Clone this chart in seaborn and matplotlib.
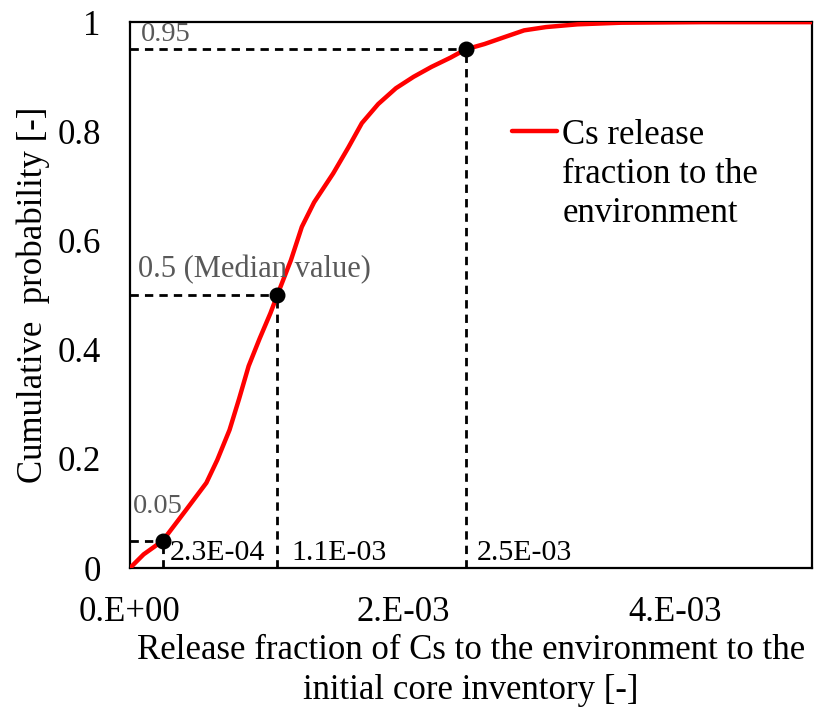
import matplotlib
matplotlib.use("Agg")
import matplotlib.pyplot as plt
import seaborn as sns
import pandas as pd
from matplotlib.lines import Line2D
from matplotlib.offsetbox import HPacker

# ---- data ----
release_fraction = [0.0, 0.10e-3, 0.24e-3, 0.41e-3, 0.56e-3, 0.64e-3, 0.73e-3, 0.80e-3,
                    0.87e-3, 0.95e-3, 1.03e-3, 1.08e-3, 1.13e-3, 1.18e-3, 1.26e-3,
                    1.35e-3, 1.49e-3, 1.60e-3, 1.70e-3, 1.82e-3, 1.95e-3, 2.08e-3,
                    2.21e-3, 2.35e-3, 2.46e-3, 2.60e-3, 2.75e-3, 2.89e-3, 3.05e-3,
                    3.28e-3, 3.60e-3, 4.20e-3, 5.00e-3]
cum_prob = [0.0, 0.025, 0.05, 0.106, 0.156, 0.198, 0.253, 0.31,
            0.37, 0.42, 0.467, 0.5, 0.532, 0.564, 0.625,
            0.67, 0.723, 0.77, 0.815, 0.85, 0.879, 0.90,
            0.918, 0.935, 0.95, 0.96, 0.973, 0.985, 0.991,
            0.996, 0.999, 1.0, 1.0]

q_probs = [0.05, 0.5, 0.95]
q_x = [0.24e-3, 1.08e-3, 2.46e-3]
q_xlabels = ["2.3E-04", "1.1E-03", "2.5E-03"]
q_plabels = ["0.05", "0.5 (Median value)", "0.95"]

x_ticks = [0.0, 2e-3, 4e-3]
x_ticklabels = ["0.E+00", "2.E-03", "4.E-03"]
y_ticks = [0, 0.2, 0.4, 0.6, 0.8, 1.0]
y_ticklabels = ["0", "0.2", "0.4", "0.6", "0.8", "1"]

series_label = "Cs release\nfraction to the\nenvironment"

df = pd.DataFrame({"x": release_fraction, "p": cum_prob})

sns.set_theme(style="white")
plt.rcParams["font.family"] = ["Liberation Serif", "DejaVu Serif"]

fig = plt.figure(figsize=(8.2, 7.08), dpi=100)
ax = fig.add_axes([0.1585, 0.1977, 0.8317, 0.771])

sns.lineplot(data=df, x="x", y="p", ax=ax, color="#ff0000", linewidth=3.2,
             estimator=None, sort=False, zorder=3)

dash_kw = dict(color="black", linewidth=2.0, dashes=(3.0, 2.2), zorder=2)
for qx, qp in zip(q_x, q_probs):
    ax.plot([0, qx], [qp, qp], **dash_kw)
    ax.plot([qx, qx], [0, qp], **dash_kw)
ax.scatter(q_x, q_probs, s=110, color="black", zorder=4)

gray = "#595959"
pl_pos = [(0.02e-3, 0.09), (0.06e-3, 0.52), (0.08e-3, 0.955)]
pl_size = [20.5, 22, 20.5]
for (tx, ty), lab, fs in zip(pl_pos, q_plabels, pl_size):
    ax.text(tx, ty, lab, color=gray, fontsize=fs, ha="left", va="bottom")
xl_pos = [0.29e-3, 1.18e-3, 2.54e-3]
for tx, lab in zip(xl_pos, q_xlabels):
    ax.text(tx, 0.004, lab, color="black", fontsize=21.5, ha="left", va="bottom")

ax.set_xlim(0, 5e-3)
ax.set_ylim(0, 1)
ax.set_xticks(x_ticks)
ax.set_xticklabels(x_ticklabels)
ax.set_yticks(y_ticks)
ax.set_yticklabels(y_ticklabels)
ax.tick_params(axis="both", direction="in", length=8, width=1.5, labelsize=25,
               colors="black")
ax.tick_params(axis="x", pad=20)
ax.tick_params(axis="y", pad=21)
for s in ax.spines.values():
    s.set_color("black")
    s.set_linewidth(1.6)

ax.set_xlabel("Release fraction of Cs to the environment to the\ninitial core inventory [-]",
              fontsize=25, labelpad=4, linespacing=1.27, color="black")
ax.set_ylabel("Cumulative  probability [-]", fontsize=25, labelpad=5, color="black")

handle = Line2D([0], [0], color="#ff0000", linewidth=3.2)
leg = ax.legend([handle], [series_label], loc="upper left", bbox_to_anchor=(0.56, 0.822),
                frameon=False, fontsize=25, handlelength=1.3, handletextpad=0.15,
                borderaxespad=0, borderpad=0)
for t in leg.get_texts():
    t.set_color("black")
    t.set_linespacing(1.23)


def _set_top(box):
    for ch in box.get_children():
        if isinstance(ch, HPacker) and len(ch.get_children()) == 2:
            ch.align = "top"
        elif hasattr(ch, "get_children"):
            _set_top(ch)


_set_top(leg._legend_handle_box)

fig.savefig("out.png", dpi=100)
